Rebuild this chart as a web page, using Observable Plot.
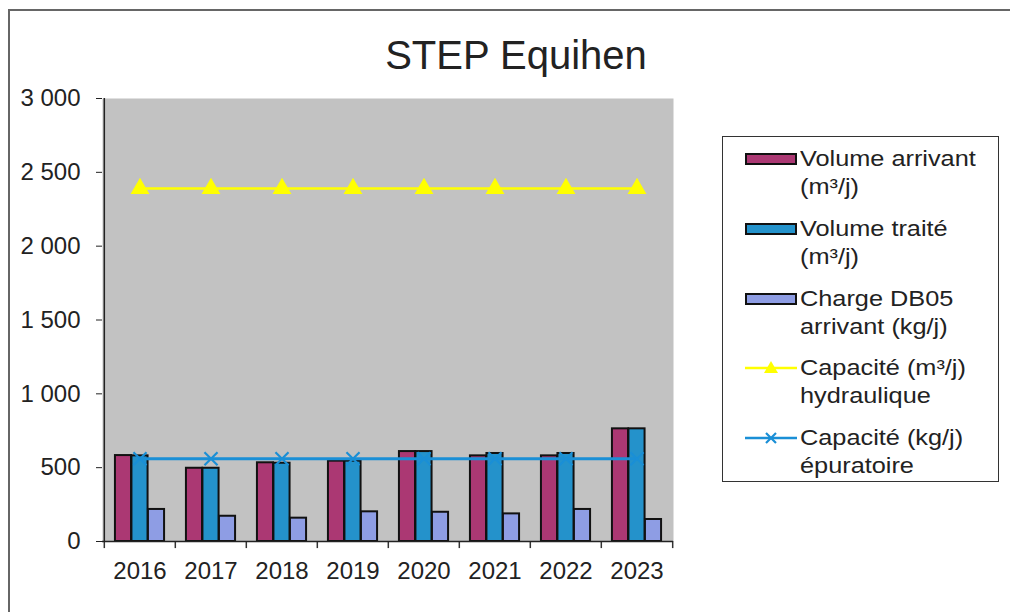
<!DOCTYPE html>
<html>
<head>
<meta charset="utf-8">
<script src="https://cdn.jsdelivr.net/npm/d3@7"></script>
<script src="https://cdn.jsdelivr.net/npm/@observablehq/plot@0.6"></script>
<style>
  html, body { margin: 0; padding: 0; background: #fff; }
  #root { position: relative; width: 1010px; height: 612px; overflow: hidden; font-family: "Liberation Sans", Arial, sans-serif; color: #222; }
  #frame { position: absolute; left: 8px; top: 9px; width: 1020px; height: 700px; border: 2px solid #666; box-sizing: border-box; }
  #title { position: absolute; left: 0; width: 1032px; top: 30px; text-align: center; font-size: 40px; line-height: 50px; z-index: 3; }
  #chart { position: absolute; left: 0; top: 0; z-index: 2; }
  #legend { position: absolute; left: 722px; top: 136px; width: 277px; height: 346px; border: 1.5px solid #333; box-sizing: border-box; background: #fff; z-index: 3; }
  .entry { position: absolute; left: 0; width: 277px; height: 56px; }
  .entry svg { position: absolute; left: 22px; top: 4px; }
  .entry .txt { position: absolute; left: 77px; top: 0; font-size: 22px; line-height: 28px; white-space: nowrap; transform: scaleX(1.15); transform-origin: left top; }
</style>
</head>
<body>
<div id="root">
  <div id="frame"></div>
  <div id="title">STEP Equihen</div>
  <div id="chart"></div>
  <div id="legend"></div>
</div>
<script>
// ---- data ----
const years = ["2016", "2017", "2018", "2019", "2020", "2021", "2022", "2023"];
const volumeArrivant = [582, 496, 533, 544, 609, 580, 580, 763];
const volumeTraite = [580, 496, 530, 544, 609, 596, 596, 763];
const chargeDBO5 = [217, 171, 158, 201, 198, 187, 217, 149];
const capaciteHydraulique = [2390, 2390, 2390, 2390, 2390, 2390, 2390, 2390];
const capaciteEpuratoire = [560, 560, 560, 560, 560, 560, 560, 560];
const yTicks = [0, 500, 1000, 1500, 2000, 2500, 3000];

const seriesNames = [
  "Volume arrivant (m³/j)",
  "Volume traité (m³/j)",
  "Charge DB05 arrivant (kg/j)",
  "Capacité (m³/j) hydraulique",
  "Capacité (kg/j) épuratoire"
];
const colors = {
  arrivant: "#ab3873",
  traite: "#2492cb",
  charge: "#8e9de4",
  hydraulique: "#ffff00",
  epuratoire: "#1a8fd6"
};

const rows = years.map((y, i) => ({
  year: y,
  arrivant: volumeArrivant[i],
  traite: volumeTraite[i],
  charge: chargeDBO5[i],
  hydraulique: capaciteHydraulique[i],
  epuratoire: capaciteEpuratoire[i]
}));

// ---- layout ----
const W = 1010, H = 612;
const mL = 102, mR = 337, mT = 98, mB = 71;
const bw = (W - mL - mR) / years.length;   // band width
const barW = 16.5;
const inset = (bw - barW) / 2;

const fmt = d => d3.format(",")(d).replace(/,/g, " ");

const chart = Plot.plot({
  width: W,
  height: H,
  marginLeft: mL,
  marginRight: mR,
  marginTop: mT,
  marginBottom: mB,
  style: { fontSize: "24px", fontFamily: "'Liberation Sans', Arial, sans-serif", color: "#222", background: "none", overflow: "visible" },
  x: { type: "band", domain: years, padding: 0, axis: null, label: null },
  y: { domain: [0, 3000], axis: null, label: null },
  marks: [
    Plot.frame({ fill: "#c2c2c2", stroke: null }),
    Plot.axisY({ ticks: yTicks, tickFormat: fmt, tickSize: 6, tickPadding: 16, stroke: "#222", fontSize: 24, label: null }),
    Plot.axisX({ tickSize: 0, tickPadding: 20, fontSize: 24, label: null }),
    // boundary ticks between categories
    Plot.ruleX(years, { x: d => d, dx: -bw / 2, y1: 0, y2: -48, stroke: "#333", strokeWidth: 1.5 }),
    Plot.ruleX([years[years.length - 1]], { x: d => d, dx: bw / 2, y1: 0, y2: -48, stroke: "#333", strokeWidth: 1.5 }),
    // left axis line
    Plot.ruleX([years[0]], { x: d => d, dx: -bw / 2, y1: 0, y2: 3000, stroke: "#222", strokeWidth: 1.5 }),
    // bars
    Plot.barY(rows, { x: "year", y: "arrivant", fill: colors.arrivant, stroke: "#111", strokeWidth: 2, insetLeft: inset, insetRight: inset, dx: -barW }),
    Plot.barY(rows, { x: "year", y: "traite", fill: colors.traite, stroke: "#111", strokeWidth: 2, insetLeft: inset, insetRight: inset }),
    Plot.barY(rows, { x: "year", y: "charge", fill: colors.charge, stroke: "#111", strokeWidth: 2, insetLeft: inset, insetRight: inset, dx: barW }),
    // bottom axis line
    Plot.ruleY([0], { stroke: "#222", strokeWidth: 1.5 }),
    // lines
    Plot.line(rows, { x: "year", y: "hydraulique", stroke: colors.hydraulique, strokeWidth: 2.5 }),
    Plot.dot(rows, { x: "year", y: "hydraulique", symbol: "triangle", fill: colors.hydraulique, stroke: "none", r: 7 }),
    Plot.line(rows, { x: "year", y: "epuratoire", stroke: colors.epuratoire, strokeWidth: 3 }),
    Plot.dot(rows, { x: "year", y: "epuratoire", symbol: "times", stroke: colors.epuratoire, strokeWidth: 2.2, r: 6 })
  ]
});
document.getElementById("chart").appendChild(chart);

// ---- legend ----
const legend = document.getElementById("legend");
const legendItems = [
  { name: seriesNames[0], kind: "bar", color: colors.arrivant },
  { name: seriesNames[1], kind: "bar", color: colors.traite },
  { name: seriesNames[2], kind: "bar", color: colors.charge },
  { name: seriesNames[3], kind: "tri", color: colors.hydraulique },
  { name: seriesNames[4], kind: "x", color: colors.epuratoire }
];
const lineBreaks = [
  ["Volume arrivant", "(m³/j)"],
  ["Volume traité", "(m³/j)"],
  ["Charge DB05", "arrivant (kg/j)"],
  ["Capacité (m³/j)", "hydraulique"],
  ["Capacité (kg/j)", "épuratoire"]
];
legendItems.forEach((it, i) => {
  const e = document.createElement("div");
  e.className = "entry";
  e.style.top = (8 + i * 69.8) + "px";
  let sw = "";
  if (it.kind === "bar") {
    sw = `<svg width="52" height="20"><rect x="1" y="5" width="50" height="10" fill="${it.color}" stroke="#111" stroke-width="2"/></svg>`;
  } else if (it.kind === "tri") {
    sw = `<svg width="52" height="20"><line x1="0" x2="52" y1="10" y2="10" stroke="${it.color}" stroke-width="2.5"/><path d="M26,3 L33,15 L19,15 Z" fill="${it.color}"/></svg>`;
  } else {
    sw = `<svg width="52" height="20"><line x1="0" x2="52" y1="10" y2="10" stroke="${it.color}" stroke-width="2.5"/><path d="M21,5 L31,15 M31,5 L21,15" stroke="${it.color}" stroke-width="2.2"/></svg>`;
  }
  e.innerHTML = sw + `<div class="txt">${lineBreaks[i][0]}<br>${lineBreaks[i][1]}</div>`;
  legend.appendChild(e);
});
</script>
</body>
</html>
